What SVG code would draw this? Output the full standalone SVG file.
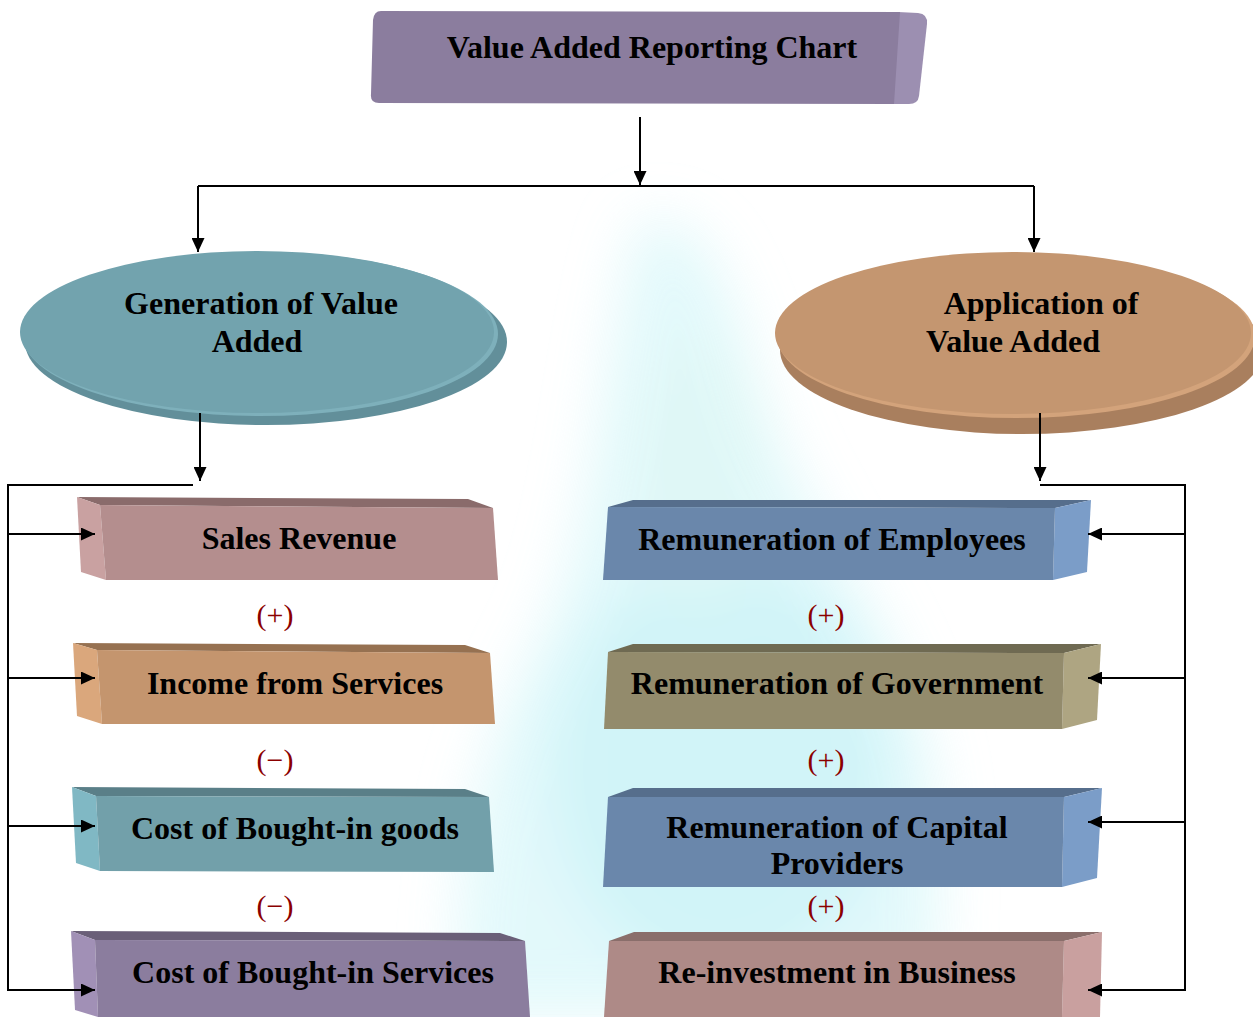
<svg xmlns="http://www.w3.org/2000/svg" width="1253" height="1017" viewBox="0 0 1253 1017">
  <defs>
    <style>
      .lbl { font-family: "Liberation Serif", "Times New Roman", serif; font-weight: bold; font-size: 32px; fill: #000; text-anchor: middle; }
      .op { font-family: "Liberation Serif", "Times New Roman", serif; font-size: 30px; fill: #8b0000; text-anchor: middle; }
      .wire { fill: none; stroke: #000; stroke-width: 2; }
      .arr { marker-end: url(#tip); }
    </style>
    <marker id="tip" markerUnits="userSpaceOnUse" markerWidth="15" markerHeight="13" refX="14" refY="6.5" orient="auto">
      <path d="M0,0 L14,6.5 L0,13 Z" fill="#000"/>
    </marker>
    <filter id="haze" x="-50%" y="-50%" width="200%" height="200%">
      <feGaussianBlur stdDeviation="28"/>
    </filter>
  </defs>

  <rect width="1253" height="1017" fill="#ffffff"/>

  <!-- soft cyan glow behind the centre column -->
  <g filter="url(#haze)" opacity="0.8">
    <path d="M640,220 C700,210 730,270 760,390 C800,520 900,620 930,760 C950,880 930,1017 930,1017 L460,1017 C450,900 470,760 540,640 C600,520 600,340 640,220 Z" fill="#dcf8fa"/>
    <ellipse cx="720" cy="770" rx="170" ry="210" fill="#c6f2f7"/>
    <ellipse cx="700" cy="470" rx="60" ry="130" fill="#d8f6f4"/>
  </g>

  <!-- title block -->
  <g id="title">
    <path d="M898,12 L918,13 Q928,14 927,24 L919,96 Q918,104 909,104 L893,104 Z" fill="#9c8fb1"/>
    <path d="M381,11 L900,12 L894,104 L379,103 Q370,103 371,94 L373,20 Q374,11 381,11 Z" fill="#8b7d9e"/>
    <text class="lbl" x="652" y="58">Value Added Reporting Chart</text>
  </g>

  <!-- generation disc -->
  <g id="generation">
    <ellipse cx="266" cy="342" rx="241" ry="83" fill="#628f9a"/>
    <ellipse cx="260" cy="334" rx="238" ry="82" fill="#7eb0bb"/>
    <ellipse cx="257" cy="332" rx="237" ry="81" fill="#72a3ae"/>
    <text class="lbl" x="261" y="314">Generation of Value</text>
    <text class="lbl" x="257" y="352">Added</text>
  </g>

  <!-- application disc -->
  <g id="application">
    <ellipse cx="1022" cy="350" rx="242" ry="84" fill="#a97f5e"/>
    <ellipse cx="1016" cy="336" rx="239" ry="82" fill="#d3a37b"/>
    <ellipse cx="1013" cy="333" rx="238" ry="81" fill="#c49670"/>
    <text class="lbl" x="1041" y="314">Application of</text>
    <text class="lbl" x="1013" y="352">Value Added</text>
  </g>

  <!-- generation items: side face on the left -->
  <g id="sales-revenue">
    <path d="M77,497 L468,499 L493,508 L100,505 Z" fill="#8a6b6b"/>
    <path d="M77,497 L100,505 L106,580 L81,572 Z" fill="#c9a1a1"/>
    <path d="M100,505 L493,508 L498,580 L106,580 Z" fill="#b48e8e"/>
    <text class="lbl" x="299" y="549">Sales Revenue</text>
  </g>
  <g id="income-services">
    <path d="M73,643 L465,645 L490,653 L97,650 Z" fill="#967151"/>
    <path d="M73,643 L97,650 L102,724 L77,716 Z" fill="#daa77c"/>
    <path d="M97,650 L490,653 L495,724 L102,724 Z" fill="#c4956e"/>
    <text class="lbl" x="295" y="694">Income from Services</text>
  </g>
  <g id="cost-goods">
    <path d="M72,787 L465,789 L489,797 L96,796 Z" fill="#5a7f88"/>
    <path d="M72,787 L96,796 L100,871 L76,863 Z" fill="#80b8c4"/>
    <path d="M96,796 L489,797 L494,872 L100,871 Z" fill="#72a0aa"/>
    <text class="lbl" x="295" y="839">Cost of Bought-in goods</text>
  </g>
  <g id="cost-services">
    <path d="M71,931 L500,933 L525,941 L95,940 Z" fill="#6a5f78"/>
    <path d="M71,931 L95,940 L98,1017 L75,1010 Z" fill="#a190b6"/>
    <path d="M95,940 L525,941 L530,1017 L98,1017 Z" fill="#8b7d9e"/>
    <text class="lbl" x="313" y="983">Cost of Bought-in Services</text>
  </g>

  <!-- application items: side face on the right -->
  <g id="rem-employees">
    <path d="M608,507 L633,500 L1091,500 L1055,508 Z" fill="#566e8c"/>
    <path d="M1055,508 L1091,500 L1087,572 L1053,580 Z" fill="#7b9dc8"/>
    <path d="M608,507 L1055,508 L1053,580 L603,580 Z" fill="#6a87ab"/>
    <text class="lbl" x="832" y="550">Remuneration of Employees</text>
  </g>
  <g id="rem-government">
    <path d="M608,652 L633,644 L1101,644 L1064,653 Z" fill="#6f6a52"/>
    <path d="M1064,653 L1101,644 L1097,720 L1062,729 Z" fill="#aea582"/>
    <path d="M608,652 L1064,653 L1062,729 L604,729 Z" fill="#938b6c"/>
    <text class="lbl" x="837" y="694">Remuneration of Government</text>
  </g>
  <g id="rem-capital">
    <path d="M608,797 L633,788 L1102,788 L1064,797 Z" fill="#566e8c"/>
    <path d="M1064,797 L1102,788 L1097,878 L1062,887 Z" fill="#7b9dc8"/>
    <path d="M608,797 L1064,797 L1062,887 L603,887 Z" fill="#6a87ab"/>
    <text class="lbl" x="837" y="838">Remuneration of Capital</text>
    <text class="lbl" x="837" y="874">Providers</text>
  </g>
  <g id="reinvestment">
    <path d="M609,941 L634,932 L1102,932 L1064,941 Z" fill="#8a6e6b"/>
    <path d="M1064,941 L1102,932 L1100,1017 L1062,1017 Z" fill="#c9a09f"/>
    <path d="M609,941 L1064,941 L1062,1017 L604,1017 Z" fill="#ae8a87"/>
    <text class="lbl" x="837" y="983">Re-investment in Business</text>
  </g>

  <!-- operators between items -->
  <g id="operators">
    <text class="op" x="275" y="625">(+)</text>
    <text class="op" x="275" y="770">(−)</text>
    <text class="op" x="275" y="916">(−)</text>
    <text class="op" x="826" y="625">(+)</text>
    <text class="op" x="826" y="770">(+)</text>
    <text class="op" x="826" y="916">(+)</text>
  </g>

  <!-- connectors, drawn last so the arrowheads sit on the item faces -->
  <g id="connectors">
    <path class="wire arr" d="M640,117 V185"/>
    <path class="wire" d="M198,186 H1034"/>
    <path class="wire arr" d="M198,186 V252"/>
    <path class="wire arr" d="M1034,186 V252"/>

    <path class="wire arr" d="M200,413 V481"/>
    <path class="wire arr" d="M193,485 H8 V990 H95"/>
    <path class="wire arr" d="M8,534 H95"/>
    <path class="wire arr" d="M8,678 H95"/>
    <path class="wire arr" d="M8,826 H95"/>

    <path class="wire arr" d="M1040,413 V481"/>
    <path class="wire arr" d="M1040,485 H1185 V990 H1088"/>
    <path class="wire arr" d="M1185,534 H1088"/>
    <path class="wire arr" d="M1185,678 H1088"/>
    <path class="wire arr" d="M1185,822 H1088"/>
  </g>
</svg>
